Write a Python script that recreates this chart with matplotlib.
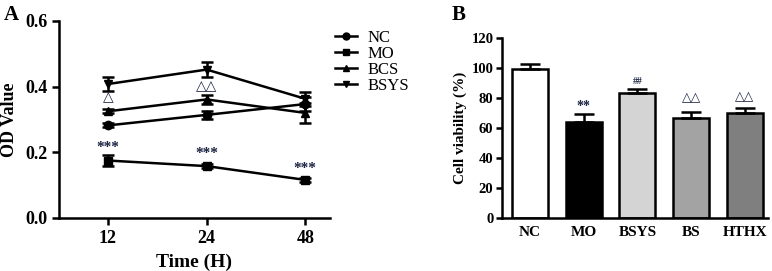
import numpy as np
import matplotlib
matplotlib.use('Agg')
import matplotlib.pyplot as plt
from matplotlib.lines import Line2D

plt.rcParams['font.family'] = 'Liberation Serif'
plt.rcParams['font.weight'] = 'bold'

# panel A data
times = ['12', '24', '48']
nc = [0.282, 0.314, 0.347]
nc_err = [0.006, 0.012, 0.02]
mo = [0.175, 0.158, 0.116]
mo_err = [0.018, 0.006, 0.005]
bcs = [0.325, 0.361, 0.32]
bcs_err = [0.006, 0.014, 0.03]
bsys = [0.408, 0.452, 0.363]
bsys_err = [0.02, 0.024, 0.022]

# panel B data
groups = ['NC', 'MO', 'BSYS', 'BS', 'HTHX']
viability = [99.5, 64, 83.5, 67, 70.2]
viability_err = [3, 5.3, 2.3, 4, 3.3]
bar_colors = ['white', 'black', '#d4d4d4', '#a3a3a3', '#7f7f7f']

fig = plt.figure(figsize=(7.72, 2.71), dpi=100)

# ---- A
ax = fig.add_axes([0.0764, 0.1956, 0.351, 0.727])
x = np.arange(len(times))
series = [(nc, nc_err, 'o', 'NC'), (mo, mo_err, 's', 'MO'),
          (bcs, bcs_err, '^', 'BCS'), (bsys, bsys_err, 'v', 'BSYS')]
handles = []
for vals, err, mk, lab in series:
    ax.errorbar(x, vals, yerr=err, color='black', marker=mk, markersize=6,
                lw=1.8, elinewidth=1.8, capsize=4, capthick=1.8)
    handles.append(Line2D([], [], color='black', marker=mk, markersize=5, lw=1.8, label=lab))
ax.set_xlim(-0.497, 2.25)
ax.set_ylim(0, 0.6)
ax.set_yticks([0.0, 0.2, 0.4, 0.6])
ax.set_yticklabels(['0.0', '0.2', '0.4', '0.6'])
ax.set_xticks(x)
ax.set_xticklabels(times)
ax.spines['top'].set_visible(False)
ax.spines['right'].set_visible(False)
for s in ['left', 'bottom']:
    ax.spines[s].set_linewidth(1.8)
ax.tick_params(width=1.8, length=5, labelsize=13)
ax.set_xlabel('Time (H)', fontsize=14, fontweight='bold', labelpad=5)
ax.set_ylabel('OD Value', fontsize=13, fontweight='bold', labelpad=5)

star_y = [0.215, 0.197, 0.152]
for xi, yi in zip(x, star_y):
    ax.text(xi, yi, '***', ha='center', va='center', fontsize=11, color='#1a2240')
ax.text(0, 0.368, '\u25b3', ha='center', va='center', fontsize=10, color='#1a2240',
        family='DejaVu Sans')
ax.text(1, 0.40, '\u25b3\u25b3', ha='center', va='center', fontsize=10, color='#1a2240',
        family='DejaVu Sans')

ax.legend(handles=handles, loc='upper left', bbox_to_anchor=(0.965, 1.03), frameon=False,
          prop={'family': 'Liberation Serif', 'weight': 'normal', 'size': 12},
          handlelength=1.3, handletextpad=0.6, labelspacing=0.0)

fig.text(0.005, 0.925, 'A', fontsize=15, fontweight='bold')

# ---- B
bx = fig.add_axes([0.650, 0.1956, 0.345, 0.664])
xb = np.arange(len(groups))
bx.bar(xb, viability, width=0.67, color=bar_colors, edgecolor='black', linewidth=1.8)
for xi, v, e in zip(xb, viability, viability_err):
    bx.errorbar(xi, v, yerr=[[0], [e]], color='black', elinewidth=1.8,
                capsize=7, capthick=1.8)
bx.set_xlim(-0.52, 4.43)
bx.set_ylim(0, 120)
bx.set_yticks(np.arange(0, 121, 20))
bx.set_xticks(xb)
bx.set_xticklabels(groups)
bx.spines['top'].set_visible(False)
bx.spines['right'].set_visible(False)
for s in ['left', 'bottom']:
    bx.spines[s].set_linewidth(1.8)
bx.tick_params(axis='y', width=1.8, length=4, labelsize=10.5, pad=2)
bx.tick_params(axis='x', width=1.8, length=0, labelsize=11, pad=6)
bx.set_ylabel('Cell viability (%)', fontsize=11, fontweight='bold', labelpad=3)

bx.text(1, 74.5, '**', ha='center', va='center', fontsize=10, color='#1a2240')
bx.text(2, 91, '##', ha='center', va='center', fontsize=7, color='#1a2240')
bx.text(3, 80.5, '\u25b3\u25b3', ha='center', va='center', fontsize=9, color='#1a2240',
        family='DejaVu Sans')
bx.text(4, 81, '\u25b3\u25b3', ha='center', va='center', fontsize=9, color='#1a2240',
        family='DejaVu Sans')

fig.text(0.585, 0.925, 'B', fontsize=15, fontweight='bold')

fig.savefig('out.png', dpi=100)
